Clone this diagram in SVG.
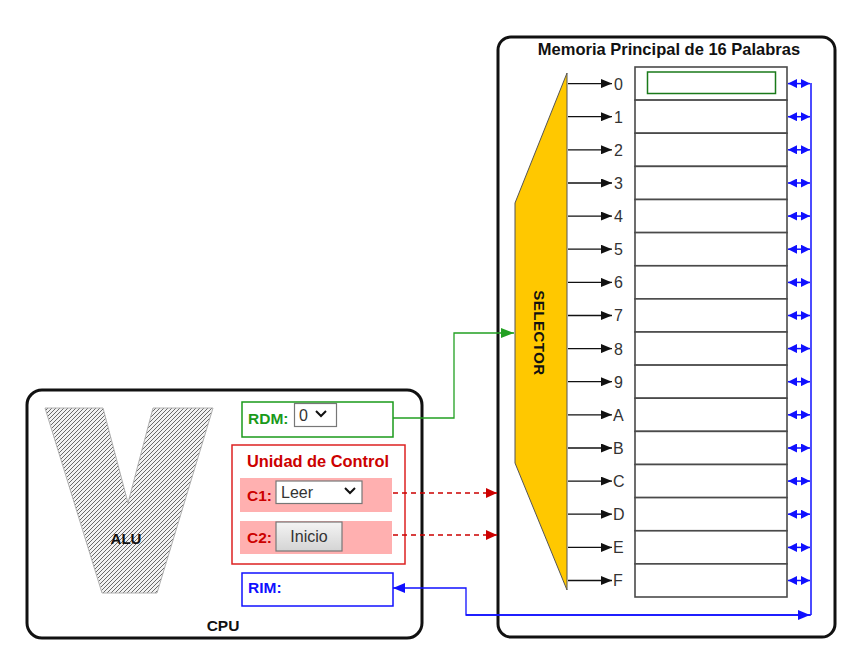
<svg xmlns="http://www.w3.org/2000/svg" width="867" height="657" viewBox="0 0 867 657">
<defs>
<style>
.frame{fill:#fff;stroke:#111;stroke-width:3}
.cell{fill:#fff;stroke:#4a4a4a;stroke-width:1.6}
.lbl{font-family:"Liberation Sans",Arial,sans-serif;font-size:16px;fill:#333}
.b{font-family:"Liberation Sans",Arial,sans-serif;font-weight:bold}
.sel{fill:#fff;stroke:#777;stroke-width:1.2}
.chev{fill:none;stroke:#111;stroke-width:2}
.selarr{stroke:#111;stroke-width:1.3;marker-end:url(#ab)}
.dbl{stroke:#1010ff;stroke-width:1.5;marker-start:url(#bl);marker-end:url(#br)}
</style>
<marker id="ab" markerUnits="userSpaceOnUse" markerWidth="11" markerHeight="9" refX="11" refY="4.5" orient="auto"><path d="M0,0 L11,4.5 L0,9 z" fill="#111"/></marker>
<marker id="br" markerUnits="userSpaceOnUse" markerWidth="9" markerHeight="9" refX="9" refY="4.5" orient="auto"><path d="M0,0 L9,4.5 L0,9 z" fill="#1010ff"/></marker>
<marker id="bl" markerUnits="userSpaceOnUse" markerWidth="9" markerHeight="9" refX="0" refY="4.5" orient="auto"><path d="M9,0 L0,4.5 L9,9 z" fill="#1010ff"/></marker>
<marker id="bb" markerUnits="userSpaceOnUse" markerWidth="12" markerHeight="10" refX="12" refY="5" orient="auto"><path d="M0,0 L12,5 L0,10 z" fill="#1010ff"/></marker>
<marker id="ag" markerUnits="userSpaceOnUse" markerWidth="13" markerHeight="10" refX="13" refY="5" orient="auto"><path d="M0,0 L13,5 L0,10 z" fill="#22a022"/></marker>
<marker id="ar" markerUnits="userSpaceOnUse" markerWidth="11" markerHeight="10" refX="11" refY="5" orient="auto"><path d="M0,0 L11,5 L0,10 z" fill="#cc0000"/></marker>
<pattern id="hatch" patternUnits="userSpaceOnUse" width="4" height="4">
<rect width="4" height="4" fill="#f2f2f2"/>
<path d="M-1,1 L1,-1 M0,4 L4,0 M3,5 L5,3" stroke="#505050" stroke-width="0.85"/>
</pattern>
<linearGradient id="btn" x1="0" y1="0" x2="0" y2="1"><stop offset="0" stop-color="#f4f4f4"/><stop offset="1" stop-color="#d4d4d4"/></linearGradient>
</defs>
<rect width="867" height="657" fill="#fff"/>

<g id="memoria">
<rect class="frame" x="498" y="37" width="337" height="600" rx="13"/>
<text class="b" x="669" y="55" font-size="16.5" text-anchor="middle" fill="#111">Memoria Principal de 16 Palabras</text>
<g id="celdas">
<rect class="cell" x="635" y="67" width="152" height="33.1"/>
<rect class="cell" x="635" y="100.1" width="152" height="33.1"/>
<rect class="cell" x="635" y="133.2" width="152" height="33.1"/>
<rect class="cell" x="635" y="166.4" width="152" height="33.1"/>
<rect class="cell" x="635" y="199.5" width="152" height="33.1"/>
<rect class="cell" x="635" y="232.6" width="152" height="33.1"/>
<rect class="cell" x="635" y="265.8" width="152" height="33.1"/>
<rect class="cell" x="635" y="298.9" width="152" height="33.1"/>
<rect class="cell" x="635" y="332" width="152" height="33.1"/>
<rect class="cell" x="635" y="365.1" width="152" height="33.1"/>
<rect class="cell" x="635" y="398.2" width="152" height="33.1"/>
<rect class="cell" x="635" y="431.4" width="152" height="33.1"/>
<rect class="cell" x="635" y="464.5" width="152" height="33.1"/>
<rect class="cell" x="635" y="497.6" width="152" height="33.1"/>
<rect class="cell" x="635" y="530.8" width="152" height="33.1"/>
<rect class="cell" x="635" y="563.9" width="152" height="33.1"/>
<rect x="647.5" y="72" width="128" height="21.5" fill="#fff" stroke="#1a7a1a" stroke-width="1.5"/>
</g>
<g id="etiquetas" class="lbl">
<text x="614" y="89.5">0</text>
<text x="614" y="122.6">1</text>
<text x="614" y="155.7">2</text>
<text x="614" y="188.9">3</text>
<text x="614" y="222">4</text>
<text x="614" y="255.1">5</text>
<text x="614" y="288.3">6</text>
<text x="614" y="321.4">7</text>
<text x="614" y="354.5">8</text>
<text x="614" y="387.6">9</text>
<text x="613" y="420.7">A</text>
<text x="613" y="453.9">B</text>
<text x="613" y="487">C</text>
<text x="613" y="520.1">D</text>
<text x="613" y="553.3">E</text>
<text x="613" y="586.4">F</text>
</g>
</g>

<g id="selector">
<polygon points="567,73 515,203 515,463 567,590" fill="#ffc800" stroke="#555" stroke-width="1"/>
<text class="b" transform="translate(534,333) rotate(90)" font-size="15" text-anchor="middle" fill="#111" letter-spacing="0.5">SELECTOR</text>
</g>

<g id="cpu">
<rect class="frame" x="27" y="390" width="395" height="248" rx="15"/>
<text class="b" x="223" y="631" font-size="15.5" text-anchor="middle" fill="#111">CPU</text>
</g>

<g id="alu">
<polygon points="45,408 103,408 128,503 153,408 213,408 157,593 102,593" fill="url(#hatch)" stroke="#b0b0b0" stroke-width="1"/>
<text class="b" x="126" y="544" font-size="15" text-anchor="middle" fill="#111">ALU</text>
</g>

<g id="rdm">
<rect x="242" y="402" width="151" height="35" fill="#fff" stroke="#1a9a1a" stroke-width="1.5"/>
<text class="b" x="248" y="424" font-size="15.5" fill="#1a9a1a">RDM:</text>
<rect class="sel" x="294.5" y="403.5" width="42" height="23"/>
<text class="lbl" x="299" y="421" font-size="16">0</text>
<path class="chev" d="M316,411 l5,5 l5,-5"/>
</g>

<g id="unidad-control">
<rect x="232" y="445" width="173" height="119" fill="#fff" stroke="#dd2222" stroke-width="1.5"/>
<text class="b" x="318" y="467" font-size="16.4" text-anchor="middle" fill="#cc0000">Unidad de Control</text>
<g id="c1">
<rect x="240" y="478" width="152" height="34" fill="#ffb0b0"/>
<text class="b" x="247" y="501" font-size="15.5" fill="#cc0000">C1:</text>
<rect class="sel" x="276" y="481" width="86" height="22.5"/>
<text class="lbl" x="281" y="498" font-size="15" fill="#111">Leer</text>
<path class="chev" d="M345,488 l5,5 l5,-5"/>
</g>
<g id="c2">
<rect x="240" y="521" width="152" height="33" fill="#ffb0b0"/>
<text class="b" x="247" y="543" font-size="15.5" fill="#cc0000">C2:</text>
<rect x="276" y="522" width="66" height="29" fill="url(#btn)" stroke="#777" stroke-width="1.2"/>
<text class="lbl" x="309" y="542" font-size="15" text-anchor="middle" fill="#111">Inicio</text>
</g>
</g>

<g id="rim">
<rect x="242" y="573" width="151" height="33" fill="#fff" stroke="#1010ff" stroke-width="1.5"/>
<text class="b" x="248" y="593" font-size="15.5" fill="#1010ff">RIM:</text>
</g>

<g id="conectores">
<g id="lineas-selector">
<line class="selarr" x1="568" y1="83.6" x2="612" y2="83.6"/>
<line class="selarr" x1="568" y1="116.7" x2="612" y2="116.7"/>
<line class="selarr" x1="568" y1="149.8" x2="612" y2="149.8"/>
<line class="selarr" x1="568" y1="183" x2="612" y2="183"/>
<line class="selarr" x1="568" y1="216.1" x2="612" y2="216.1"/>
<line class="selarr" x1="568" y1="249.2" x2="612" y2="249.2"/>
<line class="selarr" x1="568" y1="282.4" x2="612" y2="282.4"/>
<line class="selarr" x1="568" y1="315.5" x2="612" y2="315.5"/>
<line class="selarr" x1="568" y1="348.6" x2="612" y2="348.6"/>
<line class="selarr" x1="568" y1="381.7" x2="612" y2="381.7"/>
<line class="selarr" x1="568" y1="414.8" x2="612" y2="414.8"/>
<line class="selarr" x1="568" y1="448" x2="612" y2="448"/>
<line class="selarr" x1="568" y1="481.1" x2="612" y2="481.1"/>
<line class="selarr" x1="568" y1="514.2" x2="612" y2="514.2"/>
<line class="selarr" x1="568" y1="547.4" x2="612" y2="547.4"/>
<line class="selarr" x1="568" y1="580.5" x2="612" y2="580.5"/>
</g>
<g id="bus-datos">
<line class="dbl" x1="788" y1="83.6" x2="810" y2="83.6"/>
<line class="dbl" x1="788" y1="116.7" x2="810" y2="116.7"/>
<line class="dbl" x1="788" y1="149.8" x2="810" y2="149.8"/>
<line class="dbl" x1="788" y1="183" x2="810" y2="183"/>
<line class="dbl" x1="788" y1="216.1" x2="810" y2="216.1"/>
<line class="dbl" x1="788" y1="249.2" x2="810" y2="249.2"/>
<line class="dbl" x1="788" y1="282.4" x2="810" y2="282.4"/>
<line class="dbl" x1="788" y1="315.5" x2="810" y2="315.5"/>
<line class="dbl" x1="788" y1="348.6" x2="810" y2="348.6"/>
<line class="dbl" x1="788" y1="381.7" x2="810" y2="381.7"/>
<line class="dbl" x1="788" y1="414.8" x2="810" y2="414.8"/>
<line class="dbl" x1="788" y1="448" x2="810" y2="448"/>
<line class="dbl" x1="788" y1="481.1" x2="810" y2="481.1"/>
<line class="dbl" x1="788" y1="514.2" x2="810" y2="514.2"/>
<line class="dbl" x1="788" y1="547.4" x2="810" y2="547.4"/>
<line class="dbl" x1="788" y1="580.5" x2="810" y2="580.5"/>
<line x1="811" y1="83" x2="811" y2="615" stroke="#1010ff" stroke-width="1.5"/>
<polyline points="811,615 466,615 466,588 393,588" fill="none" stroke="#1010ff" stroke-width="1.3" marker-end="url(#bb)"/>
<line x1="466" y1="615" x2="810" y2="615" stroke="#1010ff" stroke-width="1.3" marker-end="url(#bb)"/>
</g>
<polyline id="rdm-selector" points="393,418 454,418 454,333 514,333" fill="none" stroke="#22a022" stroke-width="1.3" marker-end="url(#ag)"/>
<line id="c1-selector" x1="393" y1="493" x2="497" y2="493" stroke="#cc0000" stroke-width="1.3" stroke-dasharray="5,4" marker-end="url(#ar)"/>
<line id="c2-selector" x1="393" y1="535" x2="497" y2="535" stroke="#cc0000" stroke-width="1.3" stroke-dasharray="5,4" marker-end="url(#ar)"/>
</g>
</svg>
